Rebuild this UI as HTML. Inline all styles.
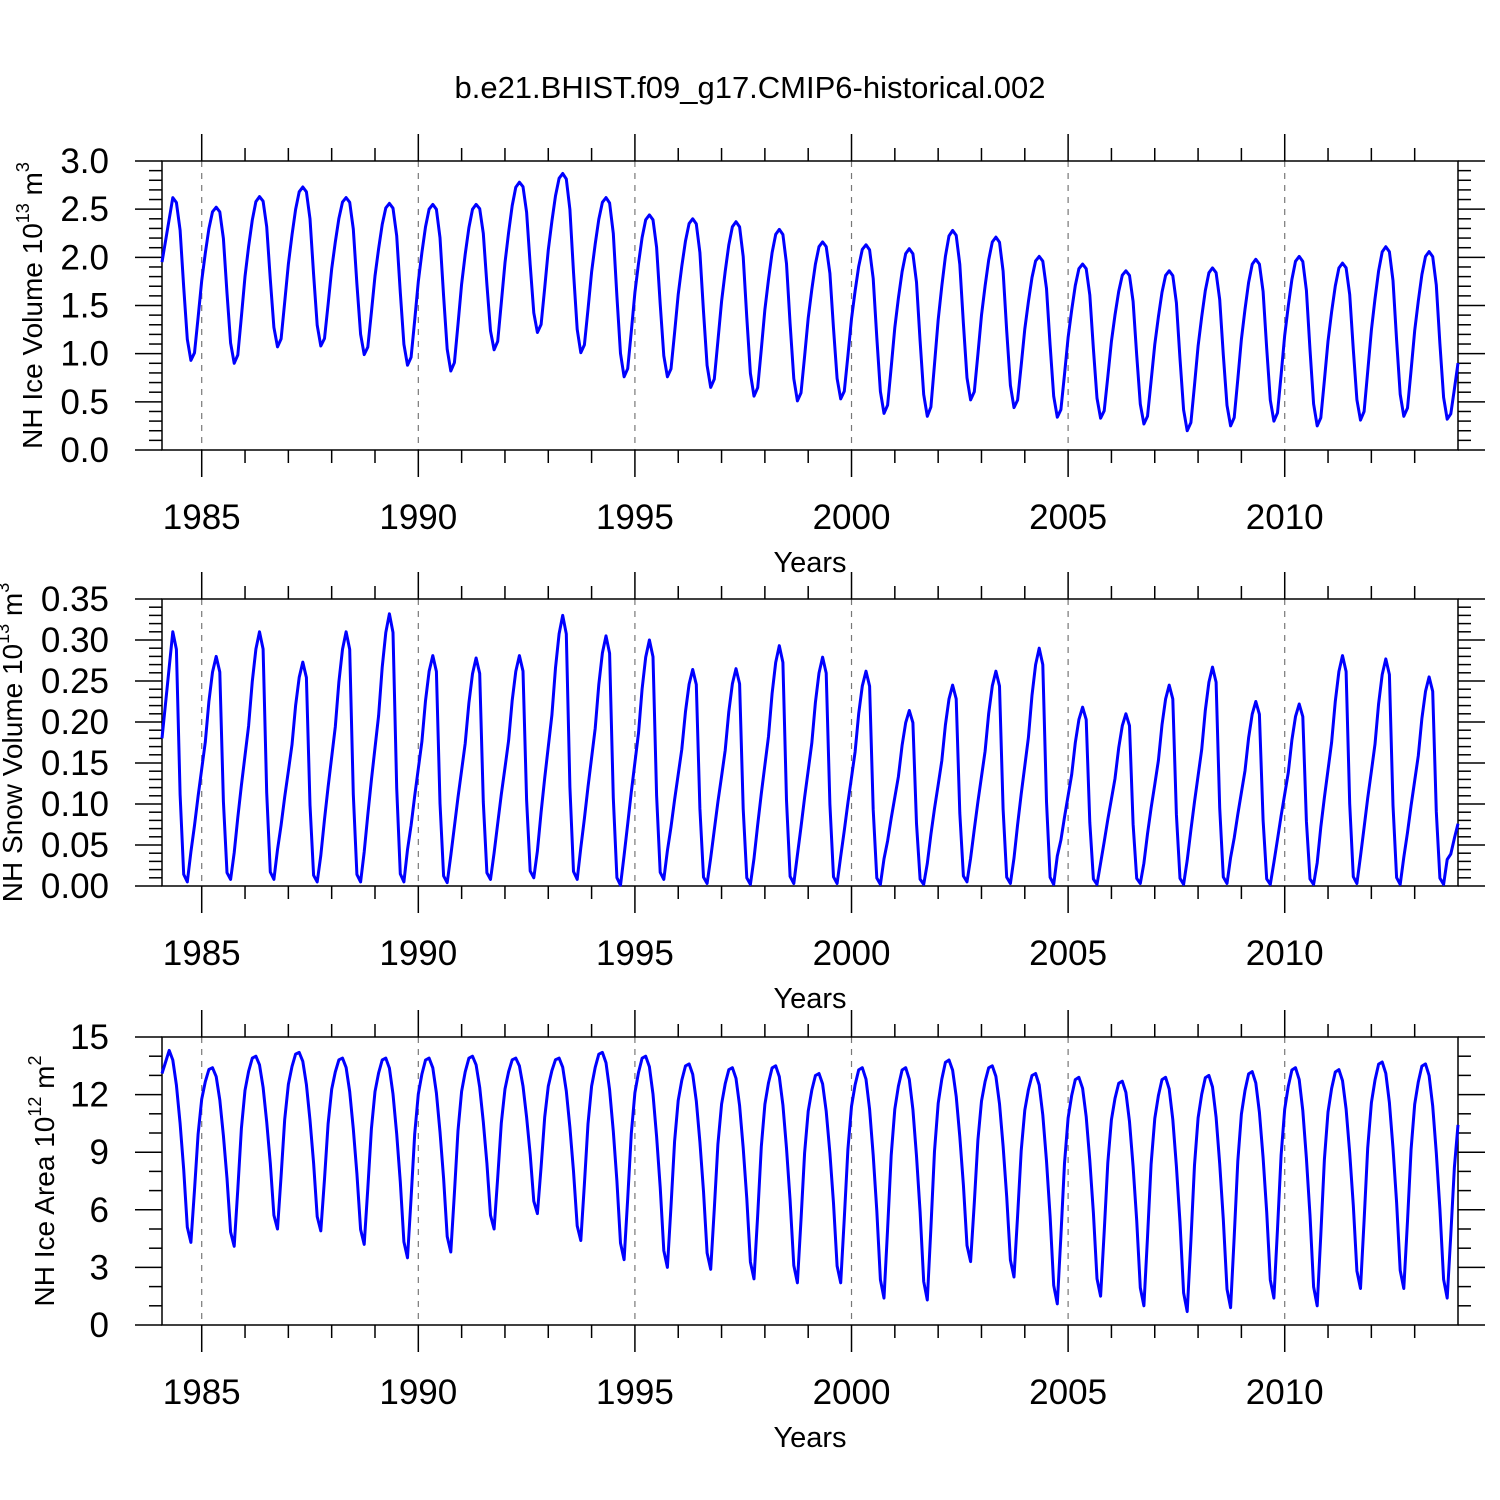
<!DOCTYPE html>
<html><head><meta charset="utf-8"><style>
html,body{margin:0;padding:0;background:#fff;}
svg{display:block;font-family:"Liberation Sans",Arial,sans-serif;}
</style></head><body>
<svg id="chart" width="1500" height="1500" viewBox="0 0 1500 1500">
<text x="750" y="98" font-size="31" text-anchor="middle">b.e21.BHIST.f09_g17.CMIP6-historical.002</text>
</svg>
<script>
// years covered
const years = [1984,1985,1986,1987,1988,1989,1990,1991,1992,1993,1994,1995,1996,1997,1998,1999,2000,2001,2002,2003,2004,2005,2006,2007,2008,2009,2010,2011,2012,2013];
// NH ice volume (1e13 m3) yearly max / min
const volMax = [2.62,2.52,2.63,2.73,2.62,2.56,2.55,2.55,2.78,2.87,2.62,2.44,2.40,2.37,2.29,2.16,2.13,2.09,2.28,2.21,2.01,1.93,1.86,1.86,1.89,1.98,2.01,1.94,2.11,2.06];
const volMin = [0.93,0.90,1.07,1.08,0.99,0.88,0.82,1.04,1.22,1.01,0.76,0.76,0.65,0.56,0.51,0.53,0.38,0.35,0.52,0.44,0.34,0.33,0.27,0.20,0.25,0.30,0.25,0.31,0.35,0.32];
const volStart = 1.95, volEndPeak = 1.44;
// NH snow volume (1e13 m3)
const snowMax = [0.31,0.28,0.31,0.273,0.31,0.332,0.281,0.278,0.281,0.33,0.305,0.30,0.264,0.265,0.293,0.279,0.262,0.214,0.245,0.262,0.29,0.218,0.21,0.245,0.267,0.225,0.222,0.281,0.277,0.255];
const snowMin = [0.005,0.008,0.008,0.005,0.005,0.005,0.004,0.008,0.01,0.008,0.001,0.008,0.003,0.002,0.003,0.003,0.002,0.002,0.005,0.003,0.002,0.002,0.003,0.002,0.003,0.002,0.002,0.003,0.002,0.002];
const snowStart = 0.18, snowEndPeak = 0.15;
// NH ice area (1e12 m2)
const areaMax = [14.3,13.4,14.0,14.2,13.9,13.9,13.9,14.0,13.9,13.9,14.2,14.0,13.6,13.4,13.5,13.1,13.4,13.4,13.8,13.5,13.1,12.9,12.7,12.9,13.0,13.2,13.4,13.3,13.7,13.6];
const areaMin = [4.3,4.1,5.0,4.9,4.2,3.5,3.8,5.0,5.8,4.4,3.4,3.0,2.9,2.4,2.2,2.2,1.4,1.3,3.3,2.5,1.1,1.5,1.0,0.7,0.9,1.4,1.0,1.9,1.9,1.4];
const areaStart = 13.1, areaEndPeak = 12.4;
// seasonal shape (fraction between trough and peak), months Jan..Dec
const volRise = [0.70,0.86,0.97,1.0]; const volFall = [0.97,0.80,0.45,0.13,0.0]; const volRise2 = [0.05,0.28,0.52];
const snowRise = [0.62,0.80,0.93,1.0]; const snowFall = [0.93,0.35,0.03,0.0,0.12]; const snowRise2 = [0.25,0.38,0.50];
const areaRise = [0.92,0.99,1.0]; const areaFall = [0.95,0.82,0.62,0.38,0.08,0.0]; const areaRise2 = [0.3,0.62,0.82];
// axis tick labels
const xTicks = [1985,1990,1995,2000,2005,2010];
const volTicks = ["0.0","0.5","1.0","1.5","2.0","2.5","3.0"];
const snowTicks = ["0.00","0.05","0.10","0.15","0.20","0.25","0.30","0.35"];
const areaTicks = ["0","3","6","9","12","15"];

function buildSeries(mx, mn, start, endPeak, rise, fall, rise2){
  const out = [];
  for (let i=0;i<mx.length;i++){
    const prevMin = i===0 ? null : mn[i-1];
    const nextMax = i+1<mx.length ? mx[i+1] : endPeak;
    for (let k=0;k<rise.length;k++){
      if (i===0){ out.push(start + (mx[0]-start)*(k/(rise.length-1))); }
      else out.push(prevMin + (mx[i]-prevMin)*rise[k]);
    }
    for (let k=0;k<fall.length;k++) out.push(mn[i] + (mx[i]-mn[i])*fall[k]);
    for (let k=0;k<rise2.length;k++) out.push(mn[i] + (nextMax-mn[i])*rise2[k]);
  }
  return out;
}
const volSeries = buildSeries(volMax,volMin,volStart,volEndPeak,volRise,volFall,volRise2);
const snowSeries = buildSeries(snowMax,snowMin,snowStart,snowEndPeak,snowRise,snowFall,snowRise2);
const areaSeries = buildSeries(areaMax,areaMin,areaStart,areaEndPeak,areaRise,areaFall,areaRise2);

const NS = "http://www.w3.org/2000/svg";
const svg = document.getElementById('chart');
const X0=162, X1=1458, T0=1984+1/12, T1=2014;
function xScale(t){ return X0 + (t-T0)*(X1-X0)/(T1-T0); }
function mk(tag, attrs, parent){ const e=document.createElementNS(NS,tag); for(const k in attrs) e.setAttribute(k,attrs[k]); (parent||svg).appendChild(e); return e; }

function panel(name, top, bot, ymin, ymax, major, minor, ticks, series, titleParts, titleX){
  const g = mk('g',{});
  
  
  const yS = v => bot - (v-ymin)*(bot-top)/(ymax-ymin);
  xTicks.forEach(yr=>{
    const l = mk('line',{x1:xScale(yr),x2:xScale(yr),y1:top,y2:bot,stroke:'#777','stroke-width':1.2,'stroke-dasharray':'6,6'},g);
    
    
  });
  for (let yr=1985; yr<=2013; yr++){
    const isMaj = xTicks.includes(yr);
    const len = isMaj?27:13, x=xScale(yr);
    mk('line',{x1:x,x2:x,y1:top,y2:top-len,stroke:'#000','stroke-width':1.5},g);
    mk('line',{x1:x,x2:x,y1:bot,y2:bot+len,stroke:'#000','stroke-width':1.5},g);
  }
  xTicks.forEach(yr=>{
    const t = mk('text',{x:xScale(yr),y:bot+79,'font-size':35,'text-anchor':'middle'},g);
    t.textContent = yr;
    
    
  });
  const xt = mk('text',{x:810,y:bot+122,'font-size':29,'text-anchor':'middle'},g);
  xt.textContent='Years';
  
  
  const nMinor = Math.round((ymax-ymin)/minor);
  for (let i=0;i<=nMinor;i++){
    const v = ymin + i*minor, y=yS(v);
    const isMaj = Math.abs(((v-ymin)/major) - Math.round((v-ymin)/major))<1e-6;
    const len = isMaj?27:13;
    mk('line',{x1:X0,x2:X0-len,y1:y,y2:y,stroke:'#000','stroke-width':1.5},g);
    mk('line',{x1:X1,x2:X1+len,y1:y,y2:y,stroke:'#000','stroke-width':1.5},g);
  }
  ticks.forEach((lab,i)=>{
    const v = ymin + i*major;
    const t = mk('text',{x:109,y:yS(v)+12,'font-size':35,'text-anchor':'end'},g);
    t.textContent = lab;
    
    
  });
  const fr = mk('rect',{x:X0,y:top,width:X1-X0,height:bot-top,fill:'none',stroke:'#000','stroke-width':1.5},g);
  
  
  const pts = series.map((v,i)=>xScale(1984+(i+1)/12).toFixed(1)+','+yS(v).toFixed(1)).join(' ');
  const pl = mk('polyline',{points:pts,fill:'none',stroke:'#0000ff','stroke-width':3,'stroke-linejoin':'round'},g);
  
  
  const cy=(top+bot)/2;
  const yt = mk('text',{x:0,y:0,'font-size':28,'text-anchor':'middle',transform:'translate('+titleX+','+cy+') rotate(-90)'},g);
  
  
  titleParts.forEach(p=>{
    const ts = document.createElementNS(NS,'tspan');
    if (p.sup){ ts.setAttribute('font-size','18'); ts.setAttribute('dy','-13'); }
    else if (p.after){ ts.setAttribute('dy','13'); }
    ts.textContent = p.t;
    yt.appendChild(ts);
  });
}
panel('ice-volume',161,450,0,3,0.5,0.1,volTicks,volSeries,
  [{t:'NH Ice Volume 10'},{t:'13',sup:1},{t:' m',after:1},{t:'3',sup:1}],42);
panel('snow-volume',599,886,0,0.35,0.05,0.01,snowTicks,snowSeries,
  [{t:'NH Snow Volume 10'},{t:'13',sup:1},{t:' m',after:1},{t:'3',sup:1}],22);
panel('ice-area',1037,1325,0,15,3,1,areaTicks,areaSeries,
  [{t:'NH Ice Area 10'},{t:'12',sup:1},{t:' m',after:1},{t:'2',sup:1}],54);
</script>
</body></html>
